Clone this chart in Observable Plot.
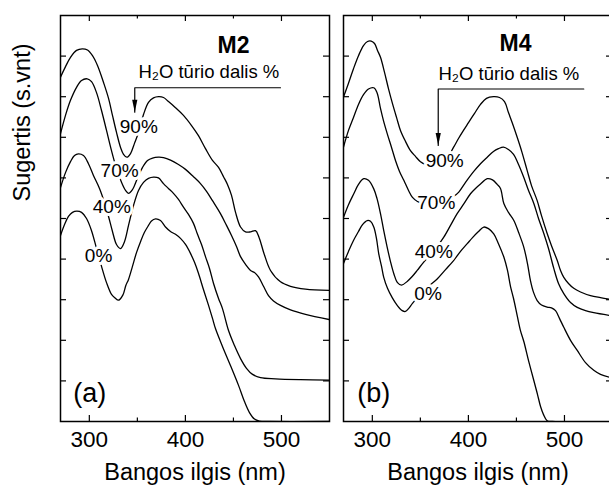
<!DOCTYPE html>
<html>
<head>
<meta charset="utf-8">
<script src="https://cdn.jsdelivr.net/npm/d3@7"></script>
<script src="https://cdn.jsdelivr.net/npm/@observablehq/plot@0.6"></script>
<style>
html, body { margin: 0; padding: 0; background: #fff; overflow: hidden; }
#wrap { position: relative; width: 609px; height: 486px; overflow: hidden; background: #fff; }
</style>
</head>
<body>
<div id="wrap"></div>
<script>
// ---------- data ----------
const xMajorTicks = [300, 400, 500];
const xMinorTicks = [350, 450];
const yTicks = [1, 2, 3, 4, 5, 6, 7, 8, 9];
const waterLabels = ["90%", "70%", "40%", "0%"];
const panelNames = ["M2", "M4"];
const panelTags = ["(a)", "(b)"];
const legendTitle = "H₂O tūrio dalis %";
const xTitle = "Bangos ilgis (nm)";
const yTitle = "Sugertis (s.vnt)";

// M2 spectra: [wavelength nm, absorbance a.u.]
const m2_90 = [[270,8.48],[275.2,8.74],[280.4,8.97],[286.7,9.14],[292.6,9.18],[298.1,9.15],[303.3,9.01],[308.5,8.77],[314.8,8.35],[320,7.96],[324.1,7.54],[328.3,7.12],[332.5,6.75],[335.6,6.58],[339,6.51],[342.9,6.60],[347,6.85],[351.2,7.12],[356.4,7.56],[361.6,7.86],[366.8,7.97],[372,8.00],[377.2,7.98],[382.4,7.88],[389.7,7.73],[398,7.54],[406.4,7.29],[413.6,7.04],[420.9,6.72],[428.2,6.43],[434.5,6.26],[439.7,6.03],[443.8,5.84],[448,5.57],[452.2,5.15],[457.4,4.79],[462.6,4.67],[467.8,4.67],[473,4.70],[476.6,4.54],[481.8,4.14],[488.6,3.72],[499,3.44],[509.4,3.33],[525,3.26],[550,3.23]];
const m2_70 = [[270,7.09],[275.2,7.54],[280.4,7.91],[286.7,8.23],[291.9,8.40],[297.8,8.44],[302.3,8.37],[307.5,8.10],[312.7,7.66],[317.9,7.17],[323.1,6.67],[328.3,6.23],[333.5,5.89],[337.7,5.69],[340.8,5.62],[344.9,5.71],[350.1,5.99],[355.4,6.26],[360.6,6.43],[365.8,6.49],[372,6.51],[377.2,6.50],[384.5,6.44],[392.8,6.33],[400.1,6.21],[408.4,6.03],[415.7,5.86],[422,5.67],[428.2,5.44],[436.5,5.12],[442.8,4.83],[448,4.58],[453.2,4.31],[457.4,4.06],[462.6,3.87],[467.8,3.72],[471.9,3.67],[476.1,3.56],[481.3,3.33],[486.5,3.10],[491.7,2.97],[499,2.86],[509.4,2.75],[525,2.64],[550,2.51]];
const m2_40 = [[270,5.76],[275.2,6.13],[280.4,6.40],[284.6,6.55],[288.7,6.59],[293.9,6.55],[299.1,6.35],[304.3,6.06],[310.6,5.74],[315.8,5.39],[320,5.05],[324.1,4.68],[328.3,4.36],[332.5,4.26],[336.6,4.43],[340.8,4.83],[346,5.32],[351.2,5.69],[356.4,5.89],[361.6,5.99],[366.8,6.02],[372,6.00],[377.2,5.86],[382.4,5.74],[387.6,5.62],[392.8,5.47],[398,5.28],[403.2,5.10],[408.4,4.88],[412.6,4.61],[416.8,4.36],[420.9,4.06],[425.1,3.77],[429.3,3.40],[434.5,3.03],[438.6,2.78],[444.9,2.24],[451.1,1.87],[457.4,1.55],[463.6,1.31],[469.9,1.16],[478.2,1.08],[493.8,1.05],[519.8,1.03],[550,1.02]];
const m2_0 = [[270,4.58],[274.2,4.85],[278.3,5.05],[282.5,5.15],[287,5.18],[291.9,5.15],[297.1,5.00],[302.3,4.70],[307.5,4.26],[312.7,3.82],[317.9,3.42],[323.1,3.13],[326.5,3.05],[330.5,2.99],[335,3.12],[338,3.35],[340.8,3.50],[344.9,3.82],[349.1,4.16],[353.3,4.43],[357.4,4.66],[361.6,4.83],[364.7,4.94],[368.9,4.99],[374.1,4.95],[379.3,4.79],[384.5,4.68],[389.7,4.61],[394.9,4.51],[400.1,4.36],[405.3,4.14],[409.5,3.92],[413.6,3.65],[418.8,3.25],[424.1,2.86],[428.2,2.54],[431.3,2.29],[438.6,1.85],[446.9,1.38],[455.3,0.89],[461.5,0.49],[466.7,0.22],[471.9,0.06],[477.1,0.01],[488.6,0],[550,0]];

// M4 spectra
const m4_90 = [[270,7.99],[275.2,8.33],[280.4,8.69],[285.6,9.01],[290.8,9.26],[295,9.36],[298.8,9.37],[302.3,9.31],[305.4,9.14],[308.5,8.97],[312.7,8.60],[316.8,8.20],[321,7.83],[325.2,7.49],[329.3,7.17],[334.5,6.90],[339.7,6.67],[344.9,6.53],[350.1,6.40],[355.4,6.33],[360.6,6.31],[367.8,6.33],[376.2,6.43],[384.5,6.75],[389.7,6.97],[394.9,7.17],[400.1,7.36],[406.4,7.59],[412.6,7.81],[418.8,7.96],[426.1,8.00],[432.4,7.98],[437.6,7.88],[441.7,7.61],[445.9,7.34],[450.8,7.00],[455.8,6.63],[461.2,6.18],[465.7,5.81],[471.6,5.44],[476.1,5.07],[482,4.63],[486.5,4.33],[492.4,3.97],[495.9,3.72],[499.3,3.55],[504.2,3.40],[509.7,3.28],[516.7,3.19],[527.1,3.10],[537.5,3.05],[550,3.00]];
const m4_70 = [[270,6.76],[275.2,7.17],[280.4,7.49],[285.6,7.81],[290.8,8.05],[296,8.19],[301.5,8.22],[304.9,8.10],[308.5,7.71],[311.6,7.41],[315.5,7.09],[320,6.75],[324.1,6.43],[328.3,6.16],[332.8,5.94],[337.7,5.69],[341.8,5.52],[347,5.42],[353.3,5.36],[360.6,5.34],[368.9,5.37],[378.3,5.47],[384.5,5.54],[390,5.65],[397,5.89],[405.6,6.16],[412.6,6.35],[419.6,6.51],[426.1,6.65],[431.3,6.72],[436.5,6.76],[441.7,6.70],[447,6.58],[452.2,6.33],[457.7,6.01],[462.6,5.69],[468.1,5.37],[473,5.00],[478.5,4.63],[483.4,4.26],[488.9,3.77],[493.8,3.40],[499.3,3.15],[506.3,2.93],[513.3,2.81],[521.9,2.73],[530.5,2.68],[550,2.60]];
const m4_40 = [[270,5.03],[275.2,5.34],[280.7,5.61],[285.6,5.84],[291.1,5.98],[296,5.94],[301.5,5.73],[304.9,5.49],[308.5,5.12],[311.9,4.70],[315.5,4.29],[318.9,3.94],[322.4,3.64],[326.2,3.42],[330.4,3.36],[336.3,3.45],[341.5,3.57],[346.7,3.72],[353.3,3.92],[360.6,4.11],[367.8,4.32],[374.4,4.54],[381.4,4.83],[388.3,5.12],[395.2,5.36],[402.2,5.61],[407.4,5.74],[412.6,5.85],[419.6,5.98],[425.1,5.95],[430,5.84],[433.4,5.74],[436.9,5.37],[441.7,5.15],[447.3,4.95],[452.2,4.66],[457.7,4.29],[461.5,3.89],[464.6,3.47],[467.8,3.18],[471.6,2.98],[476.1,2.87],[482,2.82],[486.5,2.80],[490.7,2.73],[494.8,2.54],[499.3,2.32],[506.3,2.00],[513.3,1.75],[521.9,1.45],[530.5,1.26],[537.5,1.16],[550,1.07]];
const m4_0 = [[270,3.89],[275.2,4.19],[280.4,4.46],[285.6,4.68],[289.8,4.85],[294.7,4.95],[298.1,4.93],[301.5,4.79],[304.3,4.51],[306.7,4.13],[309.6,3.82],[311.9,3.55],[315.8,3.28],[320.7,3.05],[325.9,2.86],[331.1,2.73],[334.5,2.71],[337.7,2.78],[341.8,2.91],[350.1,3.13],[358.5,3.33],[367.5,3.51],[376.2,3.74],[384.8,3.97],[391.8,4.19],[398.8,4.38],[404.3,4.53],[410.5,4.68],[416,4.79],[420.9,4.75],[426.4,4.62],[431.3,4.38],[436.9,4.05],[440.7,3.72],[443.8,3.33],[447,3.03],[450.8,2.61],[454.2,2.24],[457.7,1.97],[462.6,1.50],[468.1,1.01],[471.9,0.67],[475.1,0.37],[478.2,0.17],[482,0.02],[487.5,0],[550,0]];

// annotation anchors in data units [nm, a.u.]
const m2LabelPos = [[351.5,7.25],[331.5,6.16],[323.4,5.28],[309.6,4.07]];
const m4LabelPos = [[375.3,6.41],[366.6,5.38],[364.0,4.17],[358.0,3.15]];
const namePos = [[450.1,9.26],[449,9.30]];
const legendPos = [[424.4,8.61],[442.1,8.56]];
const tagPos = [[300.4,0.70],[301.5,0.70]];
const m2Arrow = [[499,8.22],[347.3,8.22],[347.3,7.62]];
const m4Arrow = [[520.1,8.19],[368.6,8.19],[368.6,6.80]];

// ---------- build ----------
const FONT = "'Liberation Sans', Arial, Helvetica, sans-serif";
const arrowHead = {
  draw(ctx) { ctx.moveTo(-2.6, -12.5); ctx.lineTo(2.6, -12.5); ctx.lineTo(0, 0); ctx.closePath(); }
};

function toRows(list) {
  return list.flatMap((pts, i) => pts.map(([nm, v]) => ({nm, v, s: waterLabels[i]})));
}
function toLabels(pos) {
  return pos.map(([nm, v], i) => ({nm, v, t: waterLabels[i]}));
}

function panel(cfg) {
  const H = 486 - 15 - 65;
  const W = cfg.width - cfg.marginLeft - cfg.marginRight;
  const tk = {stroke: "black", strokeWidth: 1.2};
  const arrowTip = cfg.arrow[cfg.arrow.length - 1];
  const marks = [
    Plot.line(cfg.rows, {x: "nm", y: "v", z: "s", curve: "catmull-rom", stroke: "black", strokeWidth: 1.3, clip: true}),
    Plot.text(cfg.labels, {x: "nm", y: "v", text: "t", fontSize: 19, fill: "black", stroke: "white", strokeWidth: 6, paintOrder: "stroke"}),
    Plot.line(cfg.arrow, {x: d => d[0], y: d => d[1], stroke: "black", strokeWidth: 1.2}),
    Plot.dot([arrowTip], {x: d => d[0], y: d => d[1], symbol: arrowHead, r: 1, fill: "black", stroke: "none"}),
    Plot.text([cfg.name], {x: cfg.namePos[0], y: cfg.namePos[1], fontSize: 23, fontWeight: "bold", fill: "black"}),
    Plot.text([legendTitle], {x: cfg.legendPos[0], y: cfg.legendPos[1], fontSize: 18.5, fill: "black"}),
    Plot.text([cfg.tag], {x: cfg.tagPos[0], y: cfg.tagPos[1], fontSize: 27, fill: "black"}),
    // inward ticks on all four sides
    Plot.tickX(xMajorTicks, {x: d => d, insetTop: H - 6, ...tk}),
    Plot.tickX(xMajorTicks, {x: d => d, insetBottom: H - 6, ...tk}),
    Plot.tickX(xMinorTicks, {x: d => d, insetTop: H - 3.5, ...tk}),
    Plot.tickX(xMinorTicks, {x: d => d, insetBottom: H - 3.5, ...tk}),
    Plot.tickY(yTicks, {y: d => d, insetRight: W - 6, ...tk}),
    Plot.tickY(yTicks, {y: d => d, insetLeft: W - 6, ...tk}),
    Plot.frame({stroke: "black", strokeWidth: 1.5}),
    Plot.axisX({ticks: xMajorTicks, tickSize: 0, tickPadding: 10, fontSize: 22.5, label: null, fill: "black"}),
    Plot.text([xTitle], {frameAnchor: "bottom", lineAnchor: "bottom", dy: 58.5, fontSize: 23.5, fill: "black"})
  ];
  if (cfg.yTitle) {
    marks.push(Plot.text([cfg.yTitle], {frameAnchor: "left", rotate: -90, dx: -38, dy: -17, fontSize: 23.5, fill: "black"}));
  }
  const svg = Plot.plot({
    width: cfg.width,
    height: 486,
    marginLeft: cfg.marginLeft,
    marginRight: cfg.marginRight,
    marginTop: 15,
    marginBottom: 65,
    x: {domain: [270, 550]},
    y: {domain: [0, 10], axis: null},
    style: {fontFamily: FONT, background: "transparent", color: "black", overflow: "visible"},
    marks
  });
  svg.style.position = "absolute";
  svg.style.top = "0px";
  svg.style.left = cfg.left + "px";
  svg.style.maxWidth = "none";
  return svg;
}

const wrap = document.getElementById("wrap");
wrap.appendChild(panel({
  left: 0, width: 336, marginLeft: 60, marginRight: 7,
  rows: toRows([m2_90, m2_70, m2_40, m2_0]),
  labels: toLabels(m2LabelPos),
  name: panelNames[0], namePos: namePos[0], legendPos: legendPos[0],
  tag: panelTags[0], tagPos: tagPos[0], arrow: m2Arrow, yTitle
}));
wrap.appendChild(panel({
  left: 336, width: 280, marginLeft: 7, marginRight: 4,
  rows: toRows([m4_90, m4_70, m4_40, m4_0]),
  labels: toLabels(m4LabelPos),
  name: panelNames[1], namePos: namePos[1], legendPos: legendPos[1],
  tag: panelTags[1], tagPos: tagPos[1], arrow: m4Arrow, yTitle: null
}));
</script>
</body>
</html>
